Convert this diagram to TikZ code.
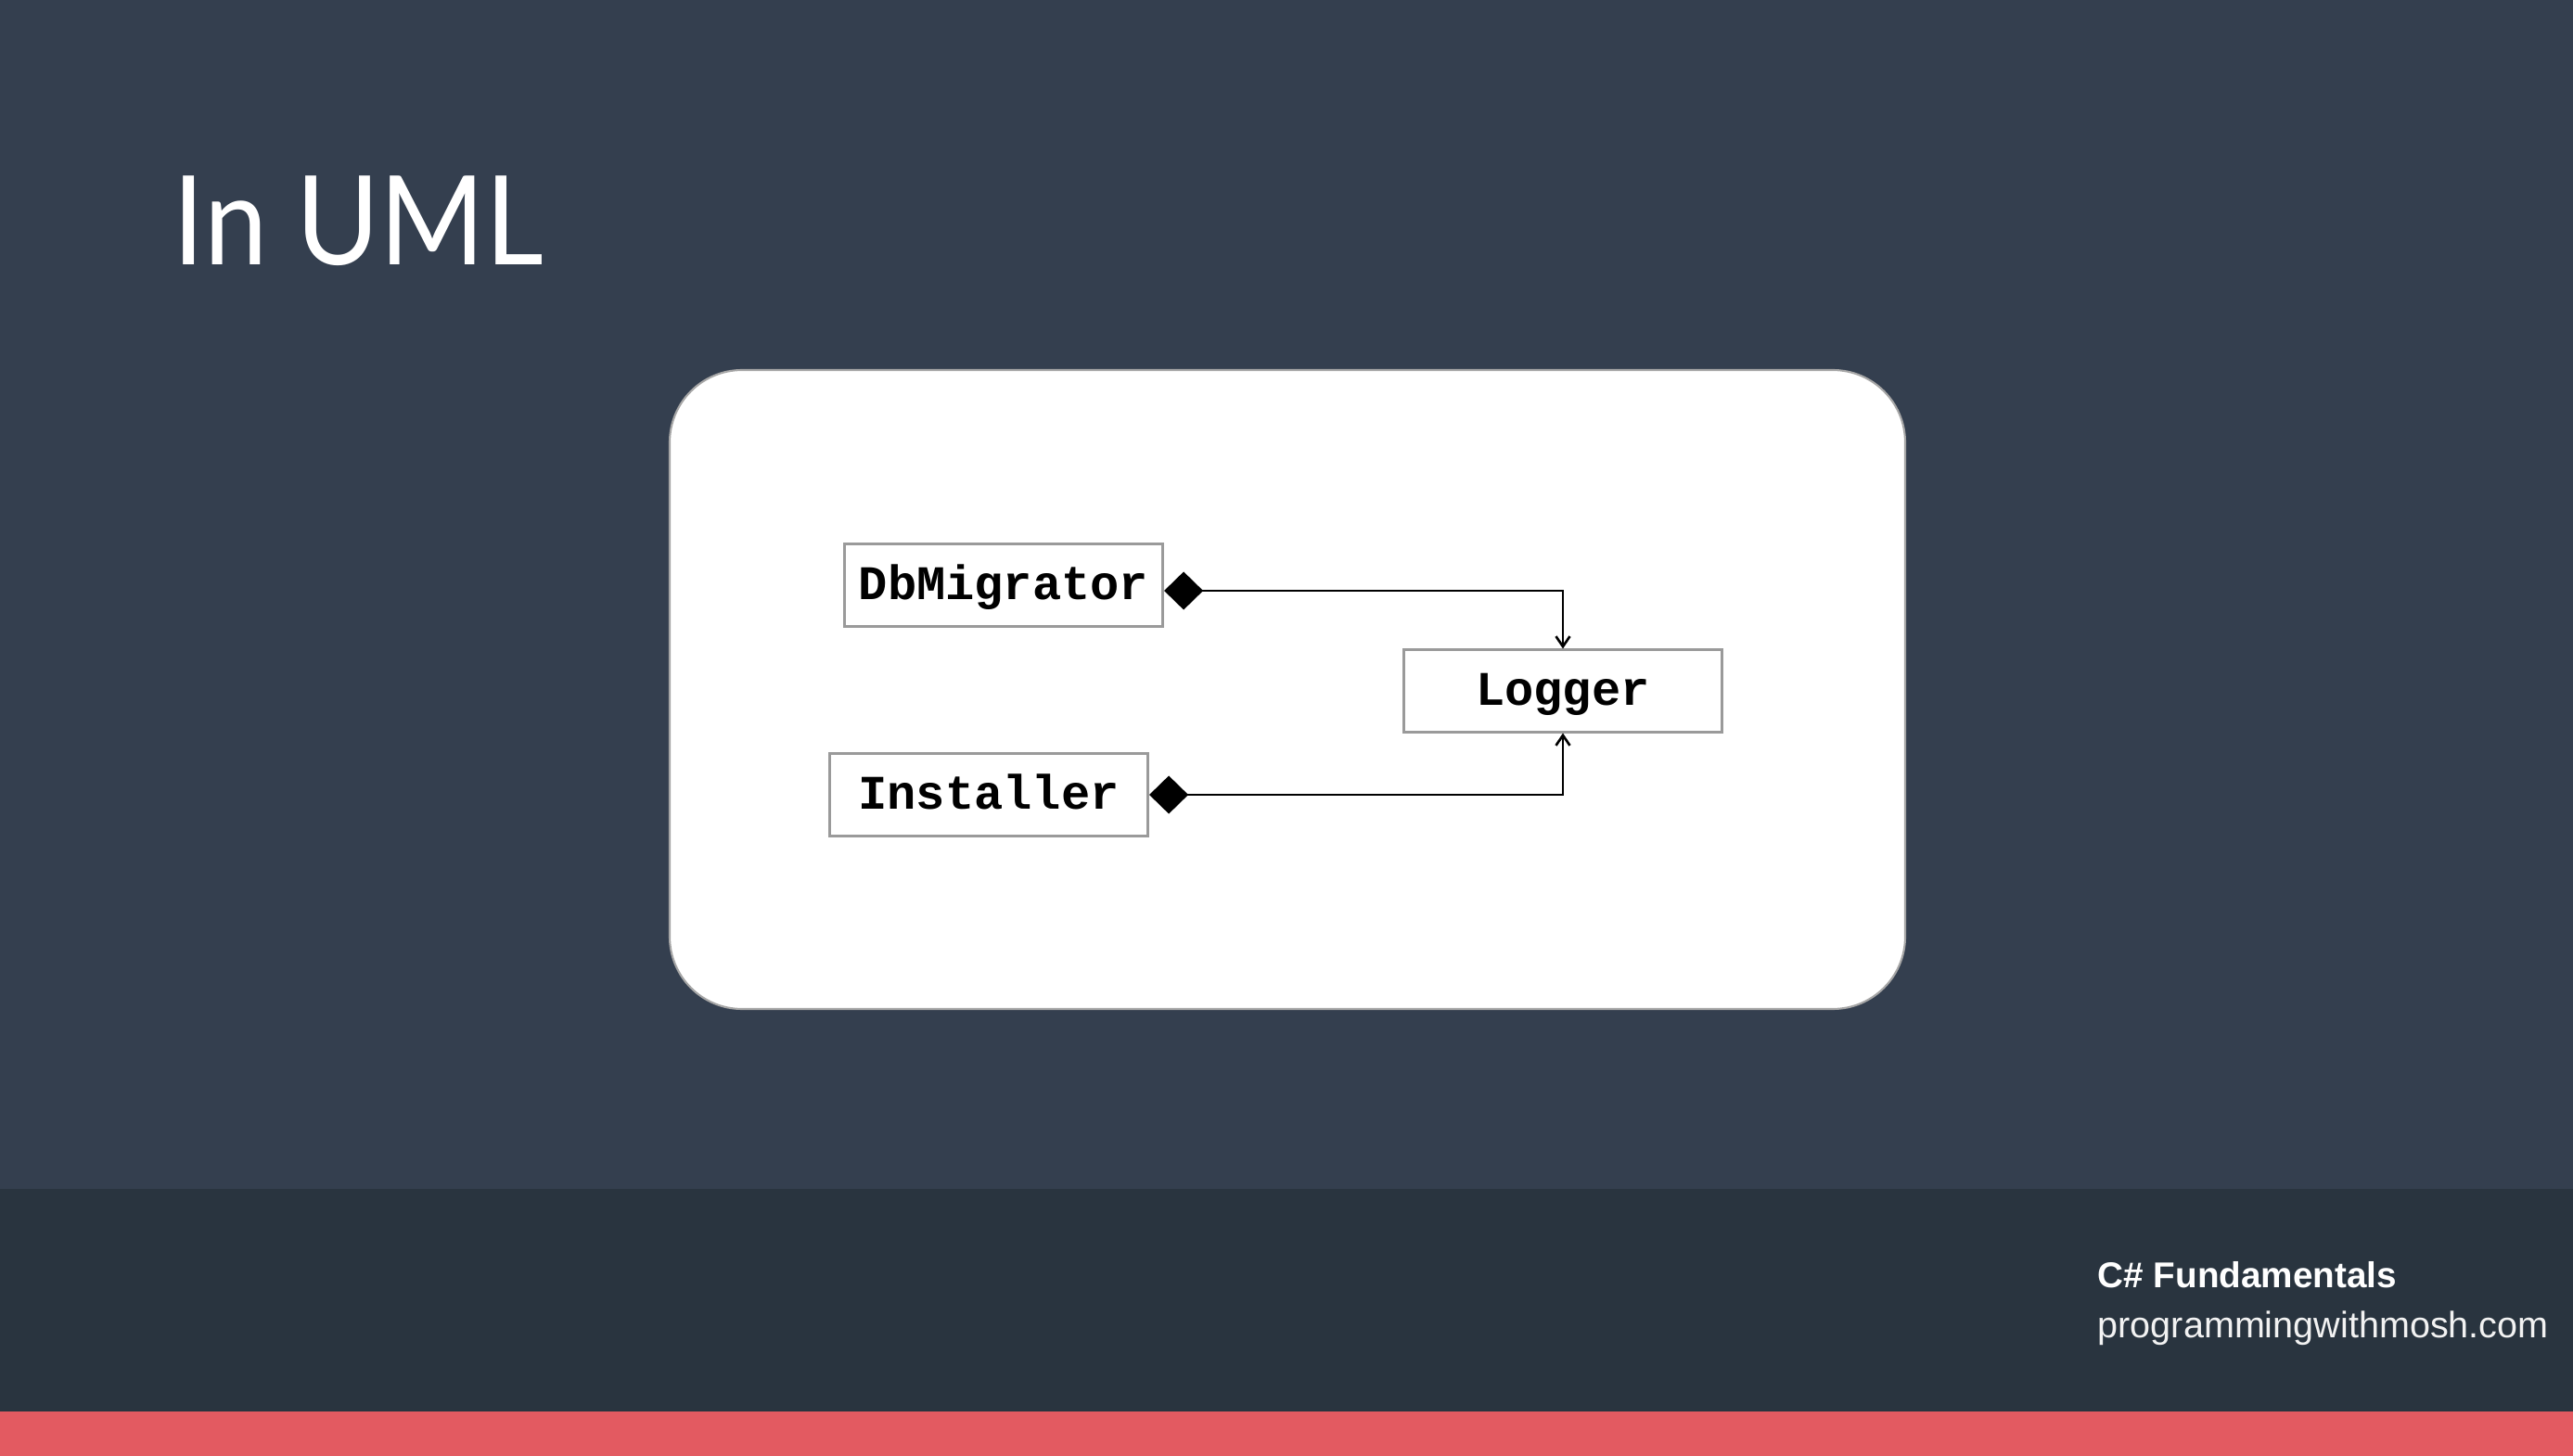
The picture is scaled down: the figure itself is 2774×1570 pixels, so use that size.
\documentclass[tikz,border=0pt]{standalone}
\usepackage{fontspec}
\setmainfont{Liberation Sans}
\newfontfamily\titlefont{Lato}[FakeStretch=0.915]
\newfontfamily\classfont{Liberation Mono}
\usetikzlibrary{arrows.meta}
\definecolor{slidebg}{HTML}{343F4F}
\definecolor{footbg}{HTML}{29343F}
\definecolor{footred}{HTML}{E35A61}
\definecolor{boxgray}{HTML}{9A9A9A}
\begin{document}
\begin{tikzpicture}[x=0.01cm,y=-0.01cm,
  classbox/.style={draw=boxgray,line width=0.85pt,fill=white,minimum width=3.43cm,minimum height=0.88cm,inner sep=0pt,text height=0.86em,text depth=0em,font=\classfont\bfseries\fontsize{14.8}{16}\selectfont},
  compose/.style={draw=black,line width=0.75pt,{Diamond[length=4.2mm,width=4.1mm]}-{Straight Barb[length=1.1mm,width=1.5mm]}},
  slidetext/.style={anchor=base west,inner sep=0pt,text=white}]
\useasboundingbox (0,0) rectangle (2774,1570);
% slide background
\fill[slidebg] (0,0) rectangle (2774,1570);
\fill[footbg] (0,1282) rectangle (2774,1522);
\fill[footred] (0,1522) rectangle (2774,1570);
\draw[fill=white,draw=gray!70,line width=0.6pt,rounded corners=0.78cm] (722,399) rectangle (2054,1088);
\node[slidetext,font=\titlefont\fontsize{38}{40}\selectfont] (title) at (186,286) {In UML};
\node[slidetext,font=\bfseries\fontsize{11}{12}\selectfont] (course) at (2261,1388) {C\# Fundamentals};
\node[slidetext,text=white!90!gray,font=\fontsize{11.25}{12}\selectfont] (site) at (2261,1442) {programmingwithmosh.com};
% classes
\node[classbox] (dbmigrator) at (1082,631) {DbMigrator};
\node[classbox] (logger) at (1685,745) {Logger};
\node[classbox] (installer) at (1066,857) {Installer};
\draw[compose] ([yshift=-0.06cm]dbmigrator.east) -| (logger.north);
\draw[compose] (installer.east) -| (logger.south);
\end{tikzpicture}
\end{document}
